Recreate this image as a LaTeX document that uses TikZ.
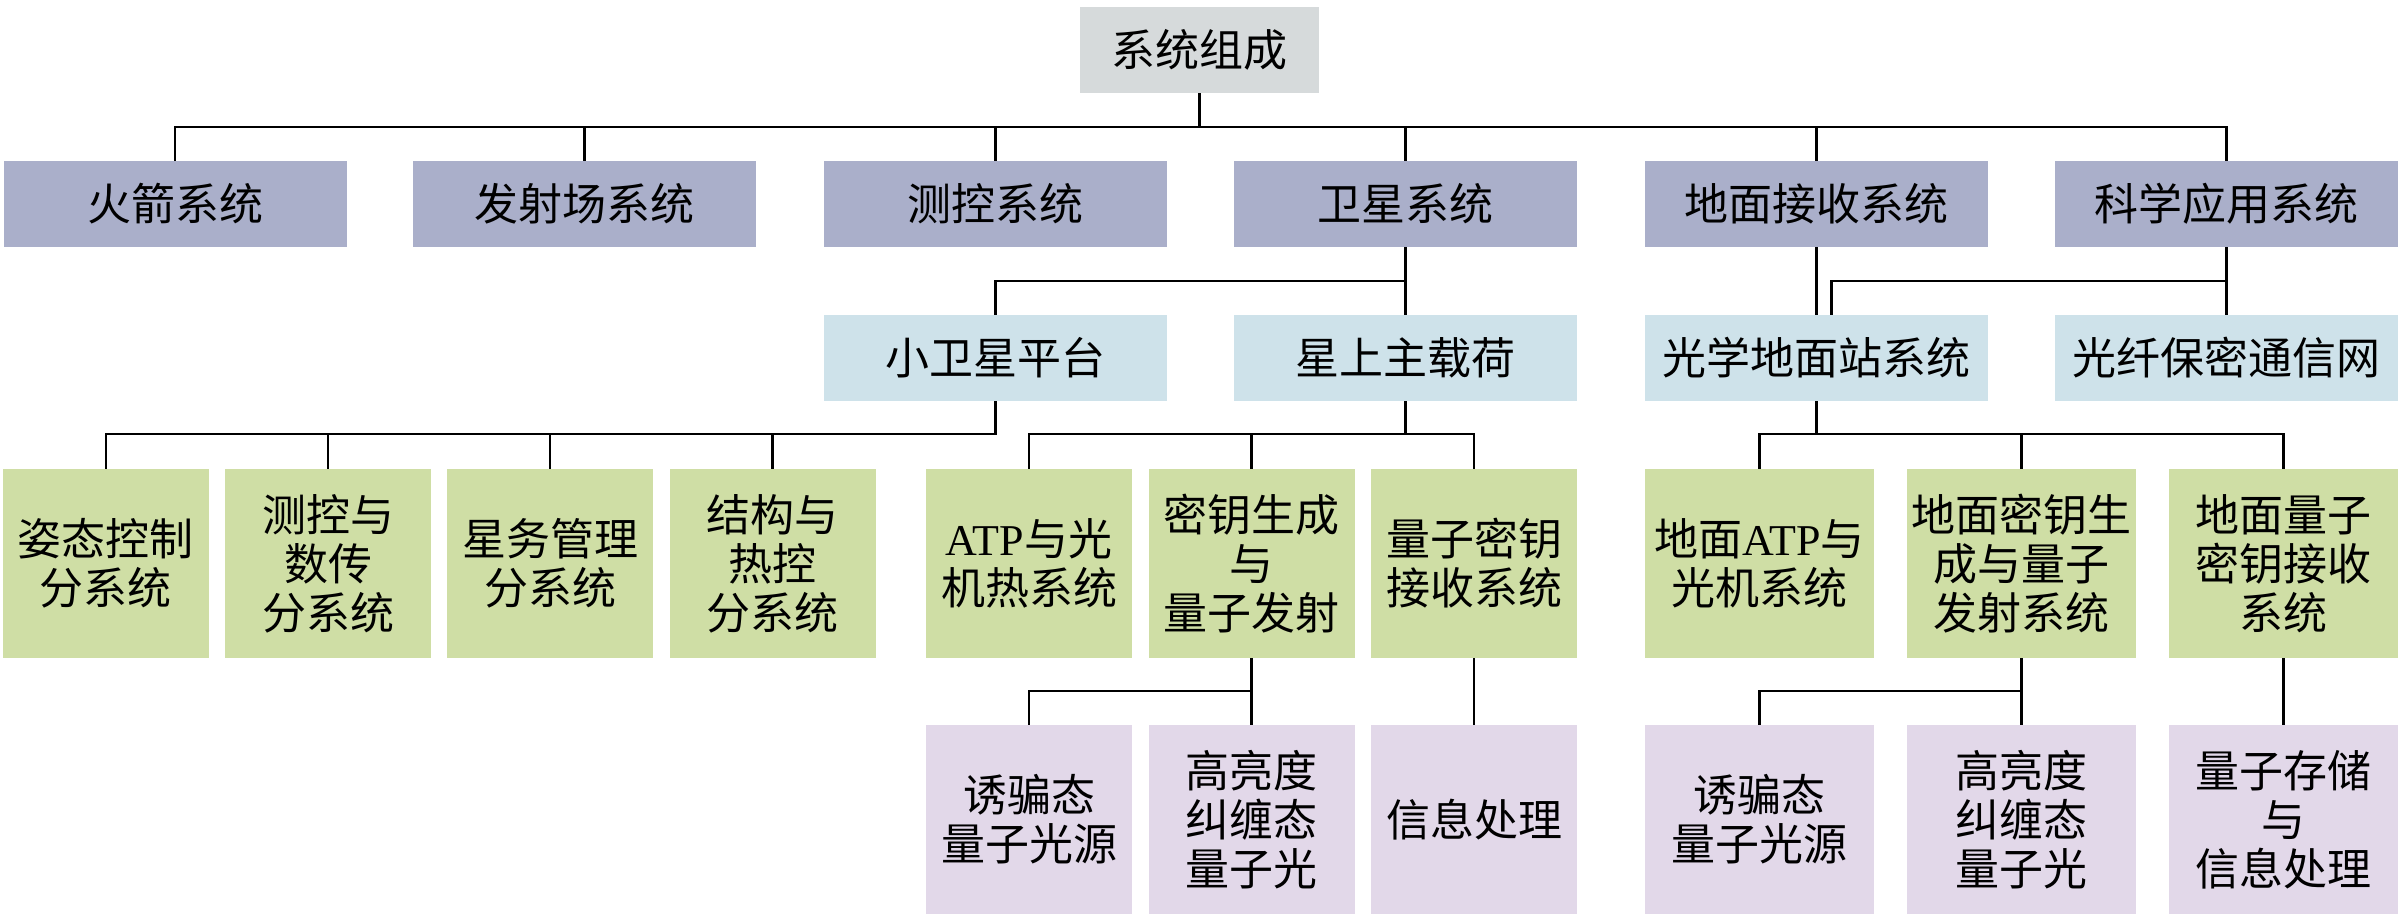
\documentclass[tikz,border=0pt]{standalone}
\usepackage{fontspec}
\setmainfont{Liberation Serif}
\newfontfamily\cjk{Noto Sans CJK SC}
\newcommand\LatinTxt[1]{{\rmfamily #1}}
\definecolor{cRoot}{RGB}{214,218,219}
\definecolor{cLone}{RGB}{170,175,202}
\definecolor{cLtwo}{RGB}{206,226,234}
\definecolor{cLthree}{RGB}{207,222,165}
\definecolor{cLfour}{RGB}{226,216,233}
\begin{document}
\begin{tikzpicture}[x=0.5pt,y=-0.5pt,
  box/.style={rectangle, inner sep=0pt, align=center, text=black,
    font=\cjk\fontsize{22}{24.5}\selectfont},
  rootbox/.style={box, fill=cRoot, minimum width=119.5pt, minimum height=43pt},
  lone/.style={box, fill=cLone, minimum width=171.5pt, minimum height=43pt},
  ltwo/.style={box, fill=cLtwo, minimum width=171.5pt, minimum height=43pt},
  lthree/.style={box, fill=cLthree, minimum width=103pt, minimum height=94.5pt},
  lthreeg/.style={lthree, minimum width=114.5pt},
  lfour/.style={box, fill=cLfour, minimum width=103pt, minimum height=94.5pt},
  lfourg/.style={lfour, minimum width=114.5pt},
  wire/.style={line width=1.3pt, black}]
\useasboundingbox (0,0) rectangle (2404,924);

% root
\node[rootbox] (root) at (1199.5,50) {系统组成};

% level 1
\node[lone] (a1) at (175,204) {火箭系统};
\node[lone] (a2) at (584.5,204) {发射场系统};
\node[lone] (a3) at (995.5,204) {测控系统};
\node[lone] (sat) at (1405.5,204) {卫星系统};
\node[lone] (gnd) at (1816.5,204) {地面接收系统};
\node[lone] (sci) at (2226.5,204) {科学应用系统};

% level 2
\node[ltwo] (ssp) at (995.5,358) {小卫星平台};
\node[ltwo] (pay) at (1405.5,358) {星上主载荷};
\node[ltwo] (ogs) at (1816.5,358) {光学地面站系统};
\node[ltwo] (fib) at (2226.5,358) {光纤保密通信网};

% level 3
\node[lthree] (c1) at (106,563.5) {姿态控制\\分系统};
\node[lthree] (c2) at (328,563.5) {测控与\\数传\\分系统};
\node[lthree] (c3) at (550,563.5) {星务管理\\分系统};
\node[lthree] (c4) at (772.5,563.5) {结构与\\热控\\分系统};
\node[lthree] (atp) at (1029,563.5) {\LatinTxt{ATP}与光\\机热系统};
\node[lthree] (kg) at (1251.5,563.5) {密钥生成\\与\\量子发射};
\node[lthree] (kr) at (1474,563.5) {量子密钥\\接收系统};
\node[lthreeg] (gatp) at (1759.5,563.5) {地面\LatinTxt{ATP}与\\光机系统};
\node[lthreeg] (gkg) at (2021.5,563.5) {地面密钥生\\成与量子\\发射系统};
\node[lthreeg] (gkr) at (2283.5,563.5) {地面量子\\密钥接收\\系统};

% level 4
\node[lfour] (d1) at (1029,819.5) {诱骗态\\量子光源};
\node[lfour] (e1) at (1251.5,819.5) {高亮度\\纠缠态\\量子光};
\node[lfour] (info) at (1474,819.5) {信息处理};
\node[lfourg] (d2) at (1759.5,819.5) {诱骗态\\量子光源};
\node[lfourg] (e2) at (2021.5,819.5) {高亮度\\纠缠态\\量子光};
\node[lfourg] (qs) at (2283.5,819.5) {量子存储\\与\\信息处理};

% bus levels
\coordinate (bzero) at (0,127);
\coordinate (bone) at (0,281);
\coordinate (btwo) at (0,434);
\coordinate (bthree) at (0,691);

% connectors
\foreach \n in {a1,a2,a3,sat,gnd,sci}
  \draw[wire] (root.south) -- (root.south |- bzero) -| (\n.north);

\draw[wire] (sat.south) -- (sat.south |- bone) -| (ssp.north);
\draw[wire] (sat.south) -- (pay.north);
\draw[wire] (gnd.south) -- (ogs.north);
\draw[wire] (sci.south) -- (fib.north);
\draw[wire] (sci.south |- bone) -| ([xshift=7.5pt]ogs.north);

\foreach \n in {c1,c2,c3,c4}
  \draw[wire] (ssp.south) -- (ssp.south |- btwo) -| (\n.north);
\foreach \n in {atp,kg,kr}
  \draw[wire] (pay.south) -- (pay.south |- btwo) -| (\n.north);
\foreach \n in {gatp,gkg,gkr}
  \draw[wire] (ogs.south) -- (ogs.south |- btwo) -| (\n.north);

\draw[wire] (kg.south) -- (kg.south |- bthree) -| (d1.north);
\draw[wire] (kg.south) -- (e1.north);
\draw[wire] (kr.south) -- (info.north);
\draw[wire] (gkg.south) -- (gkg.south |- bthree) -| (d2.north);
\draw[wire] (gkg.south) -- (e2.north);
\draw[wire] (gkr.south) -- (qs.north);
\end{tikzpicture}
\end{document}
